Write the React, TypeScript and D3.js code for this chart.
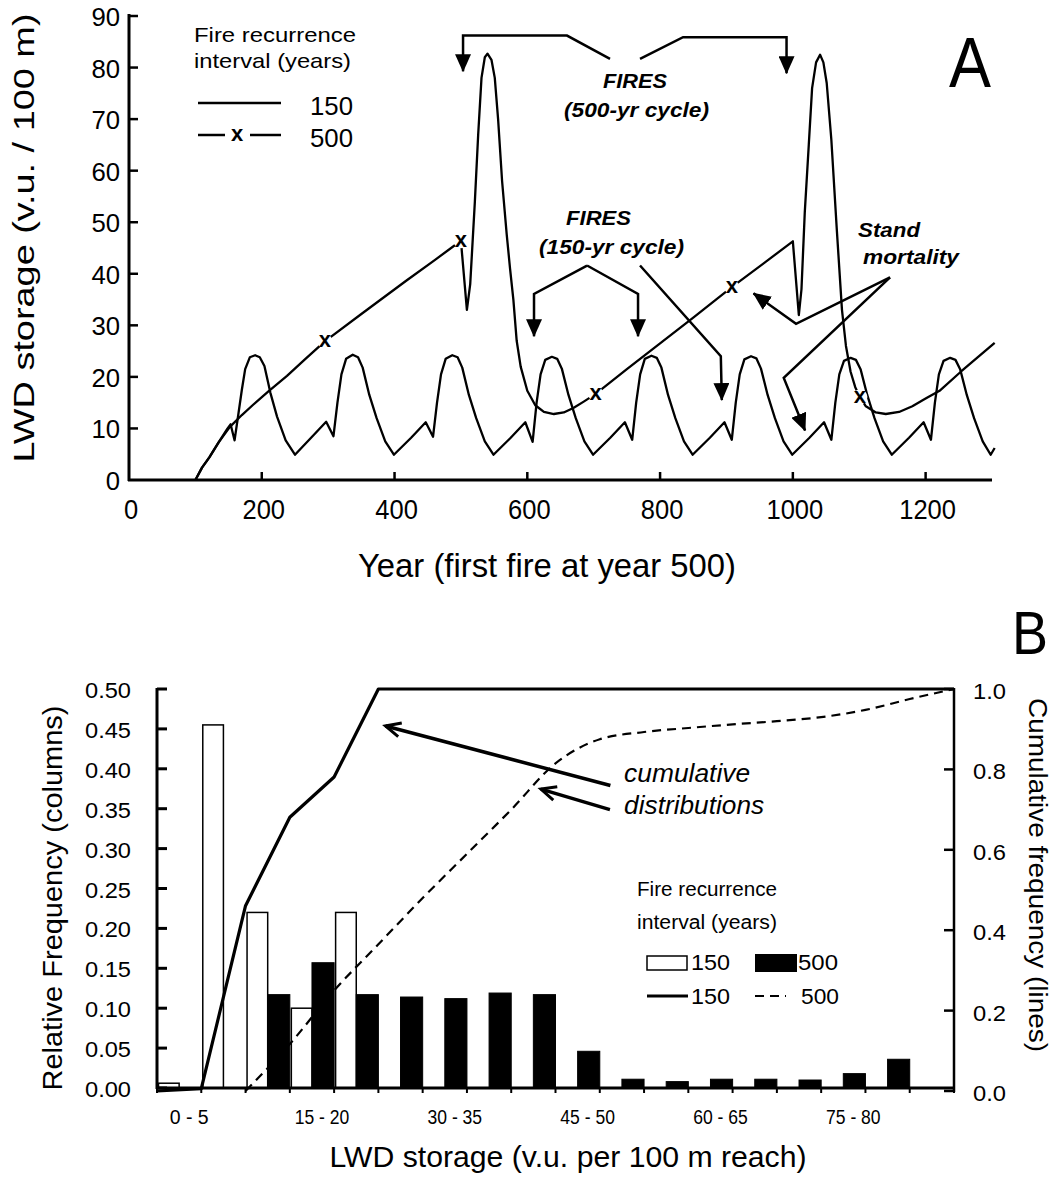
import React from "react";
import * as d3 from "d3";

type Pt = [number, number];

const FONT = "'Liberation Sans', Arial, Helvetica, sans-serif";

// ---------- Panel A: LWD storage (v.u. / 100 m) by year ----------
const storage150: Pt[] = [
  [100, 0], [110, 2.4], [121, 4.4], [135, 7.3], [148, 9.9], [153, 10.8], [159, 7.7],
  [165, 13], [170, 17.5], [175, 21.5], [182, 23.8], [190, 24.2], [197, 23.8], [204, 22.1],
  [213, 16.9], [223, 12.3], [236, 7.7], [250, 4.9], [275, 8.3], [297, 11.3], [308, 8.5],
  [314, 15], [320, 20.5], [327, 23.5], [337, 24.3], [345, 23.8], [352, 21.8], [362, 16.5],
  [373, 12], [386, 7.5], [399, 4.9], [425, 8.2], [447, 11.2], [458, 8.4],
  [464, 15], [470, 20.5], [477, 23.5], [487, 24.2], [495, 23.8], [502, 21.8], [512, 16.5],
  [523, 12], [536, 7.5], [549, 4.9], [575, 8.2], [597, 11.2], [608, 7.4],
  [614, 15], [620, 20.5], [627, 23.3], [637, 23.9], [645, 23.5], [652, 21.6], [662, 16.5],
  [673, 12], [686, 7.5], [699, 4.9], [725, 8.2], [747, 11.2], [758, 7.8],
  [764, 15], [770, 20.5], [777, 23.5], [787, 24.1], [795, 23.7], [802, 21.8], [812, 16.5],
  [823, 12], [836, 7.5], [849, 4.9], [875, 8.2], [897, 11.2], [908, 7.8],
  [914, 15], [920, 20.5], [927, 23.4], [937, 24], [945, 23.6], [952, 21.6], [962, 16.5],
  [973, 12], [986, 7.5], [999, 4.9], [1025, 8.2], [1047, 11.2], [1058, 7.8],
  [1064, 15], [1070, 20.5], [1077, 23.1], [1087, 23.7], [1095, 23.3], [1102, 21.5], [1112, 16.5],
  [1123, 12], [1136, 7.5], [1149, 4.9], [1175, 8.2], [1197, 11.2], [1208, 7.8],
  [1214, 15], [1220, 20.5], [1227, 23.1], [1237, 23.7], [1245, 23.3], [1252, 21.5], [1262, 16.5],
  [1273, 12], [1286, 7.5], [1298, 4.9], [1304, 6.2],
];

const storage500: Pt[] = [
  [100, 0], [110, 2.4], [121, 4.4], [135, 7.3], [152, 10.3], [170, 12.6], [187, 14.6],
  [210, 17.2], [238, 20.2], [265, 23.4], [295, 26.9], [350, 32.2], [417, 38.6], [460, 42.6],
  [500, 46.4], [509, 33], [514, 38], [521, 54], [526, 67], [531, 78], [536, 82], [540, 82.7],
  [546, 81.5], [551, 78], [556, 70], [562, 58], [569, 47.6], [574, 41], [579, 35], [584, 27],
  [590, 22], [600, 17.3], [612, 14.5], [625, 13.2], [640, 12.8], [655, 13.1], [670, 14],
  [685, 15.2], [703, 16.7], [750, 21.5], [800, 26.5], [850, 31.5], [908, 37.4], [960, 42.4],
  [1000, 46.3], [1009, 32], [1013, 37], [1018, 52], [1024, 65], [1029, 76], [1035, 81],
  [1041, 82.5], [1046, 81], [1051, 77], [1058, 66], [1066, 49], [1074, 33], [1080, 26],
  [1087, 21], [1094, 18], [1101, 16.1], [1110, 14.3], [1125, 13.1], [1140, 12.8],
  [1160, 13.2], [1180, 14.3], [1200, 15.8], [1221, 17.3], [1253, 21], [1304, 26.6],
];

// crosses drawn on the 500-yr curve
const markers500: Pt[] = [[295, 26.9], [500, 46.4], [703, 16.7], [908, 37.4], [1101, 16.1]];

const yearTicks = [0, 200, 400, 600, 800, 1000, 1200];
const storageTicks = [0, 10, 20, 30, 40, 50, 60, 70, 80, 90];

// ---------- Panel B: frequency distributions of LWD storage ----------
const storageClasses = [
  "0 - 5", "5 - 10", "10 - 15", "15 - 20", "20 - 25", "25 - 30", "30 - 35", "35 - 40", "40 - 45",
  "45 - 50", "50 - 55", "55 - 60", "60 - 65", "65 - 70", "70 - 75", "75 - 80", "80 - 85", "85 - 90",
];
const relFreq150 = [0.006, 0.455, 0.22, 0.1, 0.22, 0, 0, 0, 0, 0, 0, 0, 0, 0, 0, 0, 0, 0];
const relFreq500 = [0, 0, 0.117, 0.157, 0.117, 0.114, 0.112, 0.119, 0.117, 0.046, 0.011, 0.008, 0.011, 0.011, 0.01, 0.018, 0.036, 0];
// cumulative frequency at the upper edge of each class (first entry = lower edge of 0 - 5)
const cumFreq150 = [0, 0.006, 0.461, 0.681, 0.781, 1, 1, 1, 1, 1, 1, 1, 1, 1, 1, 1, 1, 1, 1];
const cumFreq500 = [0, 0, 0, 0.117, 0.25, 0.365, 0.48, 0.59, 0.7, 0.815, 0.875, 0.893, 0.903, 0.912, 0.92, 0.93, 0.948, 0.975, 1];
const relFreqTicks = [0, 0.05, 0.1, 0.15, 0.2, 0.25, 0.3, 0.35, 0.4, 0.45, 0.5];
const cumTicks = [0, 0.2, 0.4, 0.6, 0.8, 1];

// ---------- scales ----------
const xA = d3.scaleLinear().domain([0, 1300]).range([129, 992]);
const yA = d3.scaleLinear().domain([0, 90]).range([480, 16]);

const binX = d3.scaleBand<number>().domain(d3.range(storageClasses.length)).range([157, 954]).padding(0);
const seriesX = d3.scaleBand<string>().domain(["150", "500"]).range([0, binX.bandwidth()]).padding(0);
const edgeX = d3.scaleLinear().domain([0, storageClasses.length]).range([157, 954]);
const yRel = d3.scaleLinear().domain([0, 0.5]).range([1088, 689]);
const yCum = d3.scaleLinear().domain([0, 1]).range([1091, 689]);

const lineA = d3.line<Pt>().x((d) => xA(d[0])).y((d) => yA(d[1]));
const cumLine = d3.line<Pt>().x((d) => edgeX(d[0])).y((d) => yCum(d[1]));
const cumCurve = d3.line<Pt>().x((d) => edgeX(d[0])).y((d) => yCum(d[1])).curve(d3.curveMonotoneX);

// edge-indexed cumulative points; the 500-yr curve starts at the last zero edge
const cum150Pts: Pt[] = cumFreq150.map((v, i) => [i, v]);
const firstRise500 = cumFreq500.findIndex((v) => v > 0);
const cum500Pts: Pt[] = cumFreq500.map((v, i) => [i, v] as Pt).slice(Math.max(0, firstRise500 - 1));

// annotation paths for panel A, in (year, storage) units
const arrowsA: Pt[][] = [
  [[724.6, 81.7], [659.8, 86.2], [503.2, 86.2], [503.2, 79.3]],
  [[769.8, 81.7], [834.6, 85.9], [990.5, 85.9], [990.5, 78.9]],
  [[690, 41.6], [610.1, 36.1], [610.1, 27.9]],
  [[690, 41.6], [766.8, 36.1], [766.8, 27.9]],
  [[769.8, 41.6], [891.5, 24.0], [893.0, 15.5]],
  [[1146.4, 39.3], [1004.8, 30.3], [940.8, 36.2]],
  [[1146.4, 39.3], [986.3, 19.8], [1018.4, 9.6]],
];

type TProps = {
  x: number; y: number; size: number; children: React.ReactNode;
  anchor?: "start" | "middle" | "end"; len?: number; italic?: boolean; bold?: boolean; rotate?: number;
};
const T = ({ x, y, size, children, anchor = "start", len, italic, bold, rotate }: TProps) => (
  <text
    x={rotate ? 0 : x}
    y={rotate ? 0 : y}
    transform={rotate ? `translate(${x},${y}) rotate(${rotate})` : undefined}
    fontSize={size}
    fontFamily={FONT}
    textAnchor={anchor}
    fontStyle={italic ? "italic" : "normal"}
    fontWeight={bold ? "bold" : "normal"}
    textLength={len}
    lengthAdjust={len ? "spacingAndGlyphs" : undefined}
    fill="#000"
  >
    {children}
  </text>
);

const Cross = ({ cx, cy }: { cx: number; cy: number }) => (
  <g>
    <circle cx={cx} cy={cy} r={7.5} fill="#fff" />
    <T x={cx} y={cy + 6} size={22} anchor="middle" bold>x</T>
  </g>
);

export default function App() {
  const bw = seriesX.bandwidth();
  return (
    <svg
      width={1056}
      height={1179}
      viewBox="0 0 1056 1179"
      style={{ position: "absolute", left: 0, top: 0, background: "#fff" }}
    >
      <defs>
        <marker id="solidHead" viewBox="0 0 18 16" refX={17} refY={8} markerWidth={18} markerHeight={16}
          markerUnits="userSpaceOnUse" orient="auto">
          <path d="M0,0 L18,8 L0,16 Z" fill="#000" />
        </marker>
        <marker id="openHead" viewBox="-2 -2 20 18" refX={15} refY={7} markerWidth={20} markerHeight={18}
          markerUnits="userSpaceOnUse" orient="auto" overflow="visible">
          <path d="M0,0 L15,7 L0,14" fill="none" stroke="#000" strokeWidth={3} />
        </marker>
      </defs>

      {/* ================= Panel A ================= */}
      <g>
        <line x1={xA(0)} x2={xA(0)} y1={yA(0) + 1} y2={yA(90) - 2} stroke="#000" strokeWidth={3} />
        <line x1={xA(0) - 1} x2={xA(1300)} y1={yA(0)} y2={yA(0)} stroke="#000" strokeWidth={3} />
        {storageTicks.map((v) => (
          <g key={`ys${v}`}>
            {v > 0 && <line x1={xA(0)} x2={xA(0) + 9} y1={yA(v)} y2={yA(v)} stroke="#000" strokeWidth={2.5} />}
            <T x={120} y={yA(v) + 10} size={26} anchor="end" len={String(v).length * 14.3}>{v}</T>
          </g>
        ))}
        {yearTicks.map((v) => (
          <g key={`xt${v}`}>
            {v > 0 && <line x1={xA(v)} x2={xA(v)} y1={yA(0)} y2={yA(0) - 8} stroke="#000" strokeWidth={2.5} />}
            <T x={xA(v) + 2} y={519} size={27} anchor="middle" len={String(v).length * 14.2}>{v}</T>
          </g>
        ))}

        <path d={lineA(storage150) ?? ""} fill="none" stroke="#000" strokeWidth={2.3} strokeLinejoin="round" />
        <path d={lineA(storage500) ?? ""} fill="none" stroke="#000" strokeWidth={2.3} strokeLinejoin="round" />
        {markers500.map((d) => (
          <Cross key={`m${d[0]}`} cx={xA(d[0])} cy={yA(d[1])} />
        ))}

        {arrowsA.map((pts, i) => (
          <path key={`a${i}`} d={lineA(pts) ?? ""} fill="none" stroke="#000" strokeWidth={2.5}
            markerEnd="url(#solidHead)" />
        ))}

        <T x={xA(762.3)} y={yA(76.0)} size={21} anchor="middle" italic bold len={64}>FIRES</T>
        <T x={xA(764.5)} y={yA(70.4)} size={21} anchor="middle" italic bold len={145}>(500-yr cycle)</T>
        <T x={xA(707.3)} y={yA(49.5)} size={21} anchor="middle" italic bold len={65}>FIRES</T>
        <T x={xA(726.9)} y={yA(43.8)} size={21} anchor="middle" italic bold len={145}>(150-yr cycle)</T>
        <T x={xA(1098.2)} y={yA(47.1)} size={21} italic bold len={62}>Stand</T>
        <T x={xA(1105.7)} y={yA(41.9)} size={21} italic bold len={96}>mortality</T>

        {/* legend */}
        <T x={194} y={42} size={21} len={162}>Fire recurrence</T>
        <T x={194} y={68} size={21} len={157}>interval (years)</T>
        <line x1={198} x2={281} y1={103} y2={103} stroke="#000" strokeWidth={2.5} />
        <T x={310} y={115} size={26} len={43}>150</T>
        <line x1={198} x2={225} y1={135} y2={135} stroke="#000" strokeWidth={2.5} />
        <line x1={250} x2={281} y1={135} y2={135} stroke="#000" strokeWidth={2.5} />
        <T x={237} y={141} size={22} anchor="middle" bold>x</T>
        <T x={310} y={147} size={26} len={43}>500</T>

        <T x={949} y={87} size={70} len={42}>A</T>

        <T x={547} y={577} size={33} anchor="middle" len={378}>Year (first fire at year 500)</T>
        <T x={34} y={238} size={29} anchor="middle" len={449} rotate={-90}>LWD storage (v.u. / 100 m)</T>
      </g>

      {/* ================= Panel B ================= */}
      <g>
        {storageClasses.map((c, i) => (
          <g key={`bar${i}`}>
            {relFreq150[i] > 0 && (
              <rect x={(binX(i) ?? 0) + (seriesX("150") ?? 0) + 1.5} y={yRel(relFreq150[i])}
                width={bw - 1.5} height={yRel(0) - yRel(relFreq150[i])}
                fill="#fff" stroke="#000" strokeWidth={1.5} />
            )}
            {relFreq500[i] > 0 && (
              <rect x={(binX(i) ?? 0) + (seriesX("500") ?? 0)} y={yRel(relFreq500[i])}
                width={bw} height={yRel(0) - yRel(relFreq500[i])}
                fill="#000" stroke="#000" strokeWidth={1} />
            )}
          </g>
        ))}

        <path d={cumLine(cum150Pts) ?? ""} fill="none" stroke="#000" strokeWidth={3.2} strokeLinejoin="round" />
        <path d={cumCurve(cum500Pts) ?? ""} fill="none" stroke="#000" strokeWidth={2.2} strokeDasharray="9 6" />

        {/* axes */}
        <line x1={157} x2={157} y1={yRel(0) + 1} y2={yRel(0.5) - 1} stroke="#000" strokeWidth={3} />
        <line x1={156} x2={954} y1={yRel(0)} y2={yRel(0)} stroke="#000" strokeWidth={3} />
        <line x1={954} x2={954} y1={yCum(0) + 1} y2={yCum(1) - 1} stroke="#000" strokeWidth={2.5} />
        {relFreqTicks.map((v) => (
          <g key={`rt${v}`}>
            <line x1={157} x2={167} y1={yRel(v)} y2={yRel(v)} stroke="#000" strokeWidth={3} />
            <T x={131} y={yRel(v) + 9} size={22} anchor="end" len={46}>{v.toFixed(2)}</T>
          </g>
        ))}
        {cumTicks.map((v) => (
          <g key={`ct${v}`}>
            <line x1={944} x2={954} y1={yCum(v)} y2={yCum(v)} stroke="#000" strokeWidth={2.5} />
            <T x={973} y={yCum(v) + 10} size={22} len={33}>{v.toFixed(1)}</T>
          </g>
        ))}
        {d3.range(storageClasses.length + 1).map((k) => (
          <line key={`et${k}`} x1={edgeX(k)} x2={edgeX(k)} y1={yRel(0)} y2={yRel(0) + 5} stroke="#000" strokeWidth={2} />
        ))}
        {storageClasses.map((c, i) =>
          i % 3 === 0 ? (
            <T key={`cl${i}`} x={(binX(i) ?? 0) + binX.bandwidth() * 0.5 + 10} y={1124} size={20}
              anchor="middle" len={c.length * 7.8}>{c}</T>
          ) : null
        )}

        {/* annotation */}
        <path d={`M${edgeX(10.24)},${yCum(0.76)} L${edgeX(5.16)},${yCum(0.908)}`} stroke="#000" strokeWidth={3.5}
          fill="none" markerEnd="url(#openHead)" />
        <path d={`M${edgeX(10.23)},${yCum(0.7)} L${edgeX(8.67)},${yCum(0.751)}`} stroke="#000" strokeWidth={3.5}
          fill="none" markerEnd="url(#openHead)" />
        <T x={edgeX(10.55)} y={yCum(0.769)} size={26} italic len={126}>cumulative</T>
        <T x={edgeX(10.55)} y={yCum(0.689)} size={26} italic len={140}>distributions</T>

        {/* legend */}
        <T x={637} y={896} size={20} len={140}>Fire recurrence</T>
        <T x={637} y={929} size={20} len={140}>interval (years)</T>
        <rect x={647} y={956} width={40} height={14} fill="#fff" stroke="#000" strokeWidth={1.5} />
        <T x={691} y={970} size={22} len={39}>150</T>
        <rect x={755} y={954} width={42} height={18} fill="#000" />
        <T x={798} y={970} size={22} len={40}>500</T>
        <line x1={647} x2={688} y1={996} y2={996} stroke="#000" strokeWidth={3} />
        <T x={691} y={1004} size={22} len={39}>150</T>
        <line x1={755} x2={786} y1={996} y2={996} stroke="#000" strokeWidth={2} strokeDasharray="9 6" />
        <T x={801} y={1004} size={22} len={38}>500</T>

        <T x={1012} y={654} size={62} len={36}>B</T>

        <T x={568} y={1167} size={29} anchor="middle" len={477}>LWD storage (v.u. per 100 m reach)</T>
        <T x={62} y={898} size={28} anchor="middle" len={385} rotate={-90}>Relative Frequency (columns)</T>
        <T x={1029} y={875} size={26} anchor="middle" len={354} rotate={90}>Cumulative frequency (lines)</T>
      </g>
    </svg>
  );
}
